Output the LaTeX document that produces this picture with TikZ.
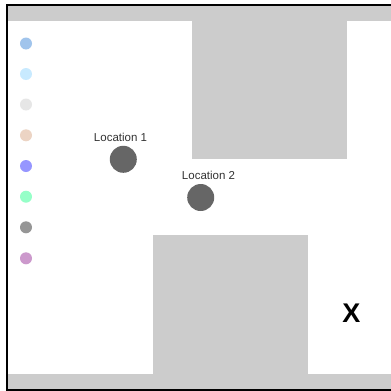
\documentclass[tikz,border=0pt]{standalone}
\usepackage{fontspec}
\setmainfont{Liberation Sans}
\definecolor{wall}{HTML}{CCCCCC}
\definecolor{loc}{HTML}{666666}
\definecolor{cA}{RGB}{160,196,236}
\definecolor{cB}{RGB}{200,234,255}
\definecolor{cC}{RGB}{230,230,230}
\definecolor{cD}{RGB}{236,212,196}
\definecolor{cE}{RGB}{150,150,255}
\definecolor{cF}{RGB}{150,255,200}
\definecolor{cG}{RGB}{150,150,150}
\definecolor{cH}{RGB}{204,153,204}
\tikzset{
  legenddot/.style={circle,inner sep=0pt,minimum size=12pt},
  locdot/.style={circle,fill=loc,inner sep=0pt,minimum size=27pt},
  loclabel/.style={font=\fontsize{11.5}{13}\selectfont,text=black!80,inner sep=0pt},
  wallbox/.style={fill=wall,draw=none}
}
\begin{document}
\begin{tikzpicture}[x=1pt,y=-1pt]
\useasboundingbox (0,0) rectangle (391,391);
\fill[white] (0,0) rectangle (391,391);
% walls
\fill[wallbox] (8,6) rectangle (391,21);
\fill[wallbox] (192,21) rectangle (347,159);
\fill[wallbox] (153,235) rectangle (308,374);
\fill[wallbox] (8,374) rectangle (391,389);
% border
\draw[line width=2pt] (391,5) -- (7,5) -- (7,389.5) -- (391,389.5);
% legend dots
\node[legenddot,fill=cA] (d1) at (26,43.5) {};
\node[legenddot,fill=cB] (d2) at (26,74) {};
\node[legenddot,fill=cC] (d3) at (26,104.5) {};
\node[legenddot,fill=cD] (d4) at (26,135.3) {};
\node[legenddot,fill=cE] (d5) at (26,166) {};
\node[legenddot,fill=cF] (d6) at (26,196.7) {};
\node[legenddot,fill=cG] (d7) at (26,227.3) {};
\node[legenddot,fill=cH] (d8) at (26,258.3) {};
% locations
\node[locdot] (l1) at (123.3,159.3) {};
\node[loclabel] (t1) at (120.5,137) {Location 1};
\node[locdot] (l2) at (200.7,197.5) {};
\node[loclabel] (t2) at (208.5,175.5) {Location 2};
% X
\node[font=\fontsize{27}{30}\selectfont\bfseries,inner sep=0pt] (x) at (351.5,313.7) {X};
\end{tikzpicture}
\end{document}
